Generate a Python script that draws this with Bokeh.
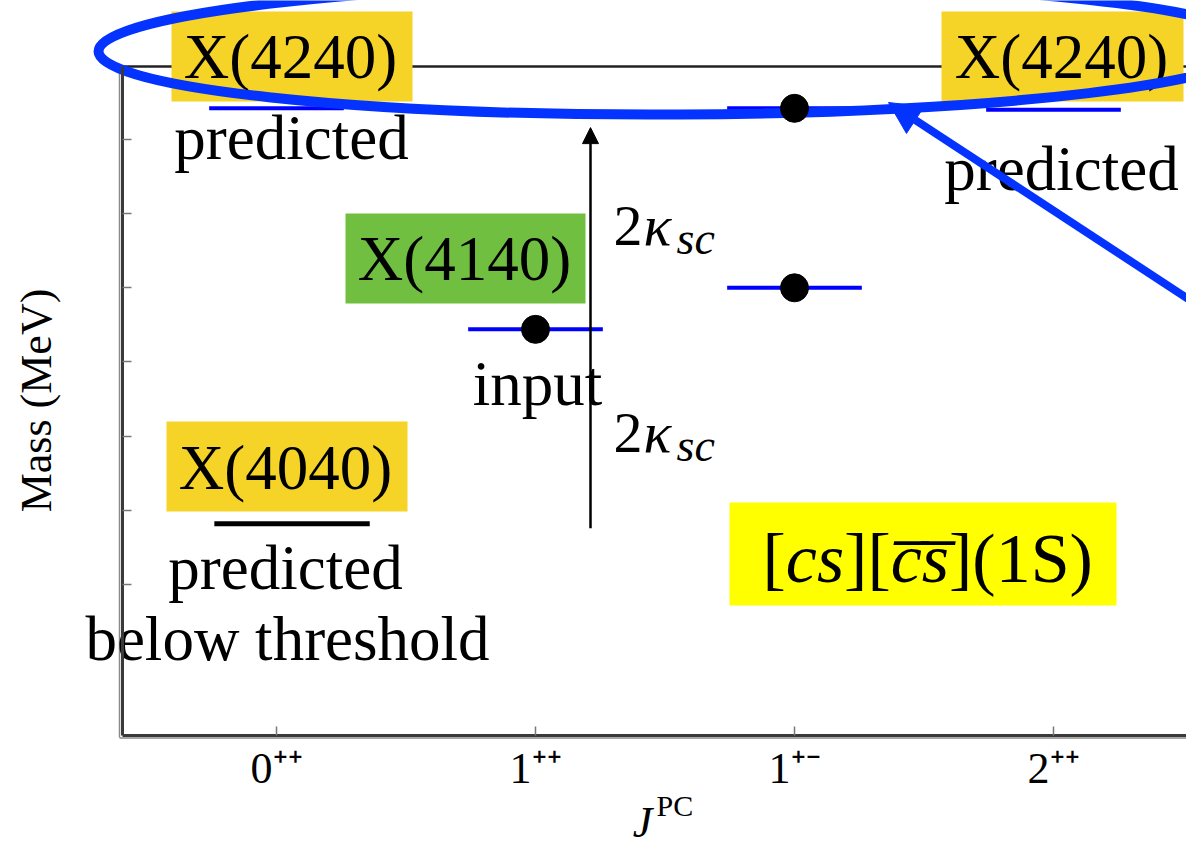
import math
from bokeh.plotting import figure
from bokeh.models import Range1d, LinearAxis, FixedTicker, Arrow, NormalHead
from bokeh.core.properties import value
from bokeh.embed import file_html
from bokeh.resources import INLINE

# ---------------- data ----------------
jpc_labels = ["0⁺⁺", "1⁺⁺", "1⁺⁻", "2⁺⁺"]
jpc_ticks = [0, 1, 2, 3]
# tetraquark levels (MeV) drawn as blue bars
level_jpc = [0, 1, 2, 2, 3]
level_mass = [4321, 4172, 4200, 4321, 4320]
# measured states (black dots)
dot_jpc = [1, 2, 2]
dot_mass = [4172, 4200, 4321]
# predicted state below threshold (black bar)
below_jpc = [0]
below_mass = [4041]
mass_ticks = [4000, 4050, 4100, 4150, 4200, 4250, 4300]
kappa_from, kappa_to = 4038, 4308

# ---------------- geometry ----------------
W, H = 1186, 850
PX_X0, PX_PER_X = 276.0, 259.0
PX_Y4000, PX_PER_MEV = 584.0, 74.17 / 50.0


def X(px):
    return (px - PX_X0) / PX_PER_X


def Y(py):
    return 4000.0 + (PX_Y4000 - py) / PX_PER_MEV


p = figure(width=W, height=H, output_backend="svg", toolbar_location=None,
           x_range=Range1d(X(0), X(W)), y_range=Range1d(Y(H), Y(0)),
           x_axis_location=None, y_axis_location=None, min_border=0,
           outline_line_color=None, background_fill_color="white")
p.grid.visible = False

SERIF = "Liberation Serif"
AX = "#3a3a3a"

# second (light) line of the doubled frame edges
p.segment(x0=[X(119)], x1=[X(119)], y0=[Y(737)], y1=[Y(66)], line_color="#8a8a8a", line_width=1.5)
p.segment(x0=[X(119)], x1=[X(W)], y0=[Y(737.5)], y1=[Y(737.5)], line_color="#8a8a8a", line_width=1.5)

xaxis = LinearAxis(fixed_location=Y(735), bounds=(X(122), X(W)))
xaxis.ticker = FixedTicker(ticks=jpc_ticks)
xaxis.major_label_overrides = {t: l for t, l in zip(jpc_ticks, jpc_labels)}
xaxis.major_label_text_font = SERIF
xaxis.major_label_text_font_size = "44px"
xaxis.major_label_text_color = "black"
xaxis.major_label_standoff = 8
xaxis.major_tick_in = 9
xaxis.major_tick_out = 0
xaxis.major_tick_line_color = "#777777"
xaxis.major_tick_line_width = 1.5
xaxis.minor_tick_line_color = None
xaxis.axis_line_color = AX
xaxis.axis_line_width = 3
p.add_layout(xaxis, "below")

yaxis = LinearAxis(fixed_location=X(122), bounds=(Y(735), Y(66)))
yaxis.ticker = FixedTicker(ticks=mass_ticks)
yaxis.major_label_overrides = {t: "" for t in mass_ticks}
yaxis.major_tick_in = 9
yaxis.major_tick_out = 0
yaxis.major_tick_line_color = "#777777"
yaxis.major_tick_line_width = 1.5
yaxis.minor_tick_line_color = None
yaxis.axis_line_color = AX
yaxis.axis_line_width = 3
p.add_layout(yaxis, "left")

# top frame line
p.segment(x0=[X(122)], x1=[X(W)], y0=[Y(66)], y1=[Y(66)], line_color="#222222", line_width=2.5)

# coloured label boxes
YEL = "#F5D327"
GRN = "#70BF41"
boxes = [
    (171, 412, 11, 101, YEL),
    (941, 1183, 11, 101, YEL),
    (345, 585, 213, 303, GRN),
    (166, 407, 421, 511, YEL),
    (729, 1116, 502, 605, "#FFFF00"),
]
for l, r, t, b, c in boxes:
    p.quad(left=[X(l)], right=[X(r)], top=[Y(t)], bottom=[Y(b)], fill_color=c, line_color=None)

# levels
HALF = 0.26
p.segment(x0=[j - HALF for j in level_jpc], x1=[j + HALF for j in level_jpc],
          y0=level_mass, y1=level_mass, line_color="#0000FF", line_width=4)
p.segment(x0=[j - 0.24 for j in below_jpc], x1=[j + 0.36 for j in below_jpc],
          y0=below_mass, y1=below_mass, line_color="black", line_width=5)

BASE_FIX = 0.31


def txt(px, py, s, size, style="normal", align="center", angle=0.0):
    if angle:
        px = px - BASE_FIX * size
    else:
        py = py - BASE_FIX * size
    p.text(x=[X(px)], y=[Y(py)], text=[s], text_font=value(SERIF),
           text_font_size=value(f"{size}px"), text_font_style=style,
           text_align=align, text_baseline="alphabetic", text_color="black", angle=angle)


txt(290, 76, "X(4240)", 63)
txt(1061, 76, "X(4240)", 63)
txt(291, 157, "predicted", 63)
txt(1061, 188, "predicted", 63)
txt(464, 278, "X(4140)", 63)
txt(537, 403, "input", 63)
txt(285, 487, "X(4040)", 63)
txt(285, 587, "predicted", 63)
txt(287, 658, "below threshold", 63)

# 2 kappa_sc labels
for base in (243, 450):
    txt(613, base, "2", 58, align="left")
    txt(643, base, "κ", 58, style="italic", align="left")
    txt(676, base + 9, "sc", 46, style="italic", align="left")

# [cs][cs](1S)
x0 = 762
for s, st, w in [("[", "normal", 0.333), ("cs", "italic", 0.833), ("][", "normal", 0.666),
                 ("c\u0305s\u0305", "italic", 0.833), ("](1S)", "normal", 2.055)]:
    txt(x0, 580, s, 70, style=st, align="left")
    x0 += w * 70

# axis titles
txt(50, 400, "Mass (MeV)", 44, angle=math.pi / 2)
txt(642, 836, "J", 44, style="italic")
txt(656, 814, "PC", 30, align="left")

# highlight ellipse
p.ellipse(x=[X(678)], y=[Y(48)], width=[1160 / PX_PER_X], height=[132 / PX_PER_MEV],
          angle=0.005, fill_color=None, line_color="#0433FF", line_width=10)

# measured states
p.scatter(x=dot_jpc, y=dot_mass, size=28, color="black")

# 2 kappa arrow
p.add_layout(Arrow(end=NormalHead(size=16, fill_color="black", line_color="black"),
                   x_start=X(590), x_end=X(590), y_start=kappa_from, y_end=kappa_to,
                   line_color="black", line_width=2.5))

# blue pointer arrow
p.add_layout(Arrow(end=NormalHead(size=32, fill_color="#0433FF", line_color="#0433FF"),
                   x_start=X(1300), y_start=Y(372), x_end=X(888), y_end=Y(102),
                   line_color="#0433FF", line_width=8))

open("out.html", "w").write(file_html(p, INLINE))
